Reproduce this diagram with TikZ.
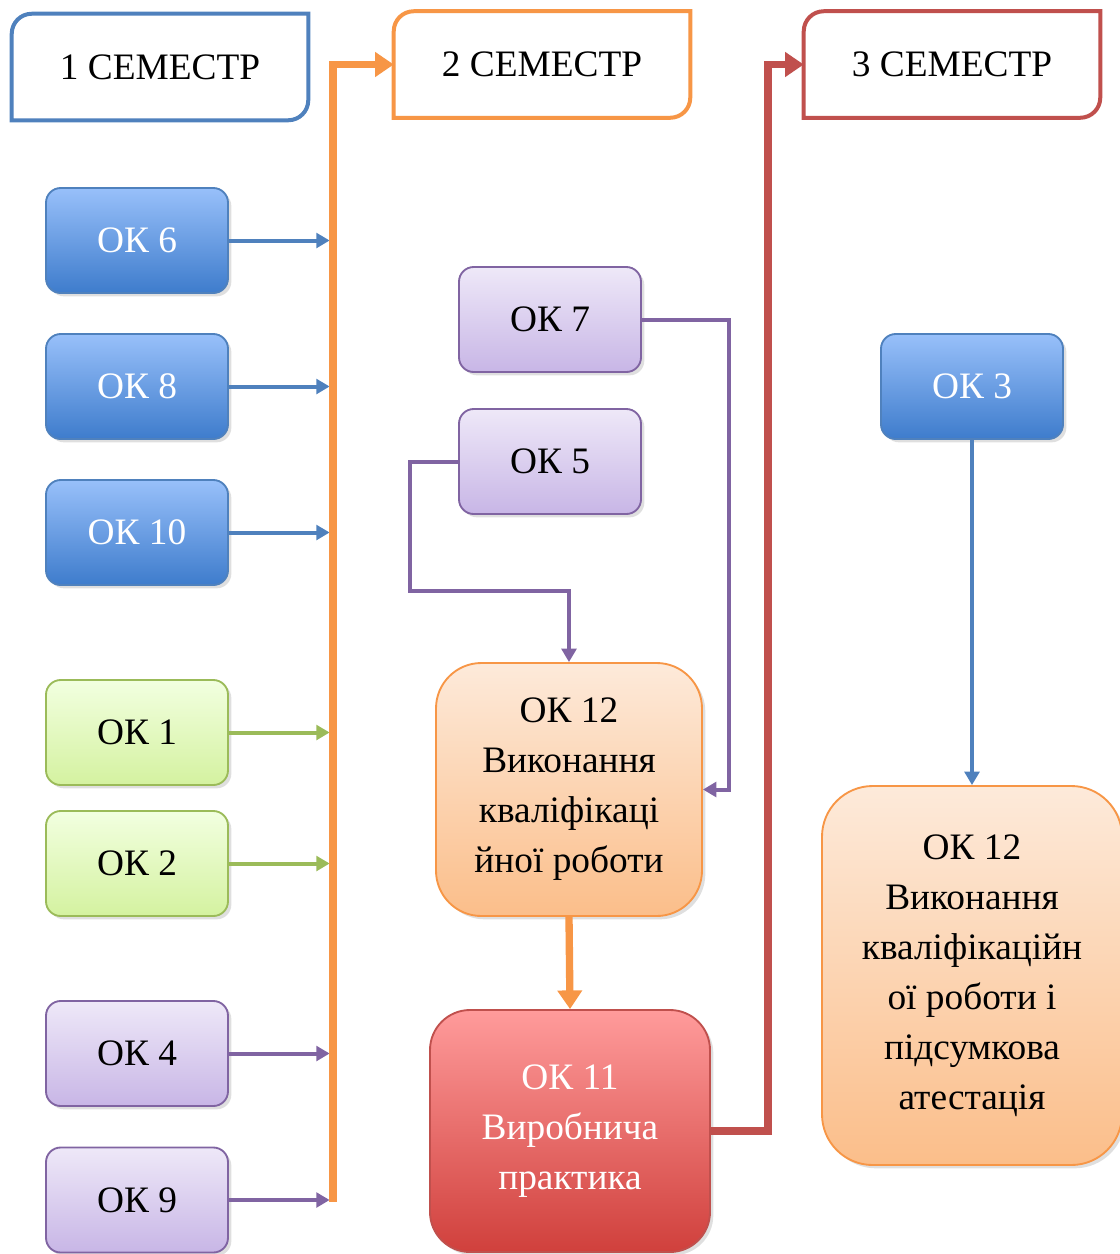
\documentclass[tikz,border=0pt]{standalone}
\usepackage{fontspec}
\setmainfont{Liberation Serif}
\usetikzlibrary{arrows.meta,shadows}
\definecolor{blueline}{RGB}{79,129,189}
\definecolor{bluetop}{RGB}{152,192,250}
\definecolor{bluebot}{RGB}{62,124,204}
\definecolor{greenline}{RGB}{155,187,89}
\definecolor{greentop}{RGB}{242,255,224}
\definecolor{greenbot}{RGB}{212,242,160}
\definecolor{purpleline}{RGB}{128,100,162}
\definecolor{purpletop}{RGB}{238,232,248}
\definecolor{purplebot}{RGB}{200,182,230}
\definecolor{orangeline}{RGB}{247,150,70}
\definecolor{orangetop}{RGB}{253,234,218}
\definecolor{orangebot}{RGB}{251,190,138}
\definecolor{redline}{RGB}{192,80,77}
\definecolor{redtop}{RGB}{255,155,155}
\definecolor{redbot}{RGB}{208,64,60}
\begin{document}
\begin{tikzpicture}[x=0.75pt,y=-0.75pt,
  txt/.style={font=\fontsize{28}{37.5}\selectfont,align=center,inner sep=0pt},
  box/.style={txt,draw,line width=1.4pt,rounded corners=11pt,minimum width=136.5pt,minimum height=78.75pt,
    drop shadow={shadow xshift=2.5pt,shadow yshift=-2.5pt,opacity=.25}},
  bluebox/.style={box,draw=blueline,top color=bluetop,bottom color=bluebot,text=white},
  greenbox/.style={box,draw=greenline,top color=greentop,bottom color=greenbot},
  purplebox/.style={box,draw=purpleline,top color=purpletop,bottom color=purplebot},
  hdr/.style={txt,minimum width=222pt,minimum height=79.5pt},
  hdrline/.style={line width=3pt,fill=white},
  thin arrow/.style={line width=3pt,-{Triangle[length=10pt,width=11pt]}},
  thick arrow/.style={line width=5.5pt,-{Triangle[length=14pt,width=18pt]}}]
\useasboundingbox (0,0) rectangle (1120,1254);
% semester headers
\node[hdr] (h1) at (160,67) {1 СЕМЕСТР};
\node[hdr] (h2) at (542,64.5) {2 СЕМЕСТР};
\node[hdr] (h3) at (952,64.5) {3 СЕМЕСТР};
\foreach \h/\c in {h1/blueline,h2/orangeline,h3/redline}
  \draw[hdrline,draw=\c] ([yshift=-15pt]\h.north west) arc[start angle=180,end angle=90,radius=15pt] -- (\h.north east)
    -- ([yshift=15pt]\h.south east) arc[start angle=0,end angle=-90,radius=15pt] -- (\h.south west) -- cycle;
\foreach \h/\t in {h1/1 СЕМЕСТР,h2/2 СЕМЕСТР,h3/3 СЕМЕСТР}
  \node[txt] at (\h) {\t};
% first column
\node[bluebox] (ok6) at (137,240.5) {ОК 6};
\node[bluebox] (ok8) at (137,386.5) {ОК 8};
\node[bluebox] (ok10) at (137,532.5) {ОК 10};
\node[greenbox] (ok1) at (137,732.5) {ОК 1};
\node[greenbox] (ok2) at (137,863.5) {ОК 2};
\node[purplebox] (ok4) at (137,1053.5) {ОК 4};
\node[purplebox] (ok9) at (137,1200) {ОК 9};
\coordinate (bus) at (333,1202); % bottom of orange line
% second column
\node[purplebox] (ok7) at (550,319.5) {ОК 7};
\node[purplebox] (ok5) at (550,461.5) {ОК 5};
\node[box,draw=orangeline,top color=orangetop,bottom color=orangebot,rounded corners=34pt,
  minimum width=199.5pt,minimum height=189.75pt] (ok12a) at (569,789.5) {ОК 12\\Виконання\\кваліфікаці\\йної роботи};
\node[box,draw=redline,top color=redtop,bottom color=redbot,text=white,rounded corners=30pt,
  minimum width=210pt,minimum height=181.5pt] (ok11) at (570,1131) {ОК 11\\Виробнича\\практика};
% third column
\node[bluebox] (ok3) at (972,386.5) {ОК 3};
\node[box,draw=orangeline,top color=orangetop,bottom color=orangebot,rounded corners=38pt,
  minimum width=225pt,minimum height=284.25pt] (ok12b) at (972,975.5) {ОК 12\\Виконання\\кваліфікаційн\\ої роботи і\\підсумкова\\атестація};
% arrows to the orange line
\foreach \n/\c in {ok6/blueline,ok8/blueline,ok10/blueline,ok1/greenline,ok2/greenline,ok4/purpleline,ok9/purpleline}
  \draw[thin arrow,draw=\c,shorten >=2.5pt] (\n.east) -- (\n.east -| bus);
\draw[thick arrow,orangeline] (bus) |- (h2.west); % to 2nd semester
\draw[thin arrow,purpleline] (ok7.east) -- ++(87,0) |- (ok12a.east);
\draw[thin arrow,purpleline] (ok5.west) -- ++(-48,0) -- ++(0,129) -| (ok12a.north);
\draw[thick arrow,orangeline] (ok12a.south) -- (ok11.north);
\draw[thick arrow,redline] (ok11.east) -- ++(57,0) |- (h3.west); % to 3rd semester
\draw[thin arrow,blueline] (ok3.south) -- (ok12b.north);
\end{tikzpicture}
\end{document}
